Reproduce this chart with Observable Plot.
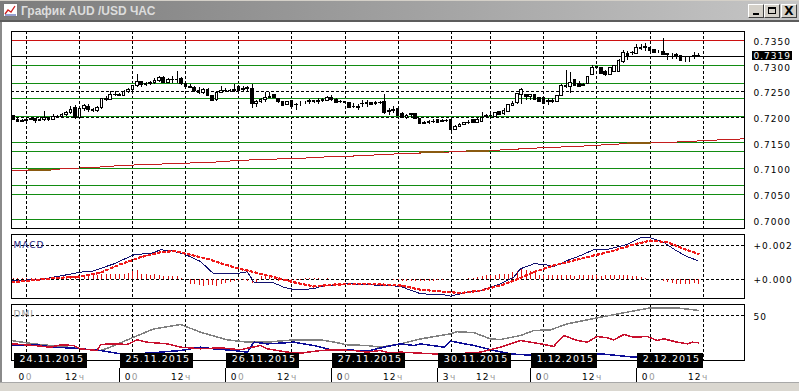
<!DOCTYPE html>
<html><head><meta charset="utf-8">
<script src="https://cdn.jsdelivr.net/npm/d3@7"></script>
<script src="https://cdn.jsdelivr.net/npm/@observablehq/plot@0.6"></script>
<style>
html,body{margin:0;padding:0;background:#fff;overflow:hidden}
#win{position:relative;width:799px;height:391px;overflow:hidden;background:#fff}
#titlebar{position:absolute;left:0;top:0;width:799px;height:21px;background:linear-gradient(to right,#7c7c7c 0%,#a4a4a4 55%,#c6c6c6 100%);border-top:1px solid #d4d0c8;box-sizing:border-box}
#titletext{position:absolute;left:21px;top:3px;font:bold 12px "Liberation Sans",Arial,sans-serif;color:#dcdcdc;white-space:nowrap}
#titleline{position:absolute;left:0;top:20px;width:799px;height:2px;background:#5c5c5c}
.btn{position:absolute;top:3px;width:16px;height:14px;background:#d4d0c8;border:1px solid;border-color:#fff #404040 #404040 #fff;box-sizing:border-box}
#leftborder{position:absolute;left:0;top:22px;width:2px;height:361px;background:#8a8a8a}
#bottom{position:absolute;left:0;top:382px;width:799px;height:9px;background:#dad7d0;border-top:1px solid #a8a8a8;box-sizing:border-box}
.panel{position:absolute;left:0}
.panel svg{overflow:visible;shape-rendering:crispEdges}
.panel svg text{letter-spacing:1px}
</style></head>
<body>
<div id="win">
  <div id="titlebar">
    <svg style="position:absolute;left:3px;top:2px" width="15" height="14"><rect x="0.5" y="0.5" width="14" height="13" fill="#fff" stroke="#7a7a7a"/><polyline points="2,11 5,7 8,9 12,3" fill="none" stroke="#d02020" stroke-width="1.3"/><polyline points="2,12 13,12" stroke="#3040a0"/></svg>
    <div id="titletext">График AUD /USD ЧАС</div>
    <div class="btn" style="left:748px"><div style="position:absolute;left:4px;top:8px;width:6px;height:2px;background:#000"></div></div>
    <div class="btn" style="left:764px"><div style="position:absolute;left:3px;top:2px;width:8px;height:7px;border:1px solid #000;border-top-width:2px;box-sizing:border-box"></div></div>
    <div class="btn" style="left:781px"><div style="position:absolute;left:0;top:-1px;width:14px;text-align:center;font:bold 12px 'DejaVu Sans',sans-serif;color:#000">X</div></div>
  </div>
  <div id="titleline"></div>
  <div id="leftborder"></div>
  <div class="panel" id="mainPanel" style="top:22px"></div>
  <div class="panel" id="macdPanel" style="top:230px"></div>
  <div class="panel" id="dmiPanel" style="top:300px"></div>
  <div id="bottom"></div>
</div>
<script>
// ---------- DATA ----------
const firstBar = -3; // bar index of first candle (index 0 = 24.11 00:00)
const barOpen = [
.7202,.7195,.7191,.7193,.7195,.7197,.7192,.7195,.7198,.7194,
.7200,.7201,.7204,.7209,.7217,.7198,.7215,.7220,.7214,.7212,
.7217,.7235,.7233,.7243,.7244,.7242,.7249,.7252,.7260,.7268,
.7262,.7264,.7266,.7270,.7276,.7267,.7273,.7272,.7275,.7264,
.7258,.7257,.7250,.7247,.7253,.7241,.7233,.7248,.7250,.7251,
.7250,.7258,.7253,.7255,.7255,.7226,.7230,.7234,.7238,.7243,
.7236,.7229,.7224,.7231,.7224,.7225,.7228,.7231,.7231,.7230,
.7231,.7232,.7237,.7234,.7229,.7229,.7227,.7220,.7220,.7226,
.7227,.7227,.7225,.7227,.7230,.7210,.7212,.7216,.7206,.7198,
.7204,.7206,.7197,.7187,.7188,.7190,.7194,.7191,.7192,.7194,
.7176,.7181,.7185,.7188,.7194,.7189,.7191,.7200,.7202,.7201,
.7211,.7206,.7211,.7222,.7227,.7243,.7243,.7239,.7243,.7238,
.7238,.7230,.7232,.7230,.7241,.7260,.7258,.7272,.7265,.7262,
.7265,.7283,.7295,.7295,.7288,.7283,.7288,.7288,.7307,.7322,
.7324,.7323,.7333,.7336,.7335,.7330,.7326,.7327,.7322,.7321,
.7321,.7319,.7315,.7314,.7317,.7320];
const barClose = [
.7195,.7191,.7193,.7195,.7197,.7192,.7195,.7198,.7194,.7200,
.7201,.7204,.7209,.7214,.7198,.7215,.7222,.7214,.7212,.7217,
.7235,.7233,.7243,.7244,.7242,.7249,.7252,.7260,.7268,.7262,
.7264,.7266,.7270,.7276,.7267,.7273,.7272,.7273,.7264,.7258,
.7257,.7250,.7247,.7253,.7241,.7232,.7248,.7250,.7251,.7250,
.7252,.7250,.7255,.7256,.7226,.7230,.7233,.7238,.7240,.7238,
.7229,.7222,.7229,.7220,.7223,.7225,.7228,.7230,.7229,.7231,
.7233,.7237,.7233,.7228,.7230,.7228,.7218,.7219,.7217,.7225,
.7226,.7223,.7227,.7228,.7208,.7212,.7214,.7203,.7199,.7202,
.7206,.7197,.7187,.7188,.7190,.7191,.7189,.7192,.7193,.7176,
.7180,.7185,.7188,.7189,.7189,.7194,.7199,.7202,.7203,.7208,
.7205,.7213,.7223,.7225,.7245,.7253,.7239,.7243,.7233,.7230,
.7225,.7232,.7230,.7241,.7261,.7258,.7266,.7261,.7259,.7261,
.7279,.7295,.7297,.7285,.7282,.7295,.7299,.7310,.7325,.7320,
.7325,.7335,.7335,.7334,.7328,.7325,.7326,.7321,.7321,.7321,
.7320,.7310,.7315,.7314,.7319,.7319];
const barHigh = [
.7204,.7197,.7195,.7198,.7200,.7198,.7199,.7212,.7200,.7205,
.7204,.7207,.7211,.7220,.7223,.7220,.7225,.7224,.7216,.7220,
.7237,.7240,.7250,.7250,.7247,.7252,.7255,.7262,.7283,.7270,
.7268,.7270,.7275,.7280,.7280,.7276,.7280,.7288,.7278,.7266,
.7263,.7260,.7258,.7256,.7255,.7243,.7250,.7260,.7255,.7254,
.7263,.7262,.7260,.7260,.7264,.7233,.7236,.7249,.7249,.7245,
.7237,.7230,.7231,.7233,.7227,.7230,.7231,.7234,.7232,.7236,
.7236,.7240,.7242,.7236,.7233,.7231,.7228,.7227,.7225,.7232,
.7232,.7229,.7230,.7230,.7245,.7216,.7220,.7218,.7209,.7205,
.7208,.7208,.7198,.7191,.7194,.7196,.7196,.7196,.7195,.7195,
.7184,.7188,.7190,.7193,.7196,.7197,.7210,.7205,.7206,.7210,
.7212,.7217,.7225,.7230,.7246,.7255,.7245,.7245,.7244,.7239,
.7238,.7237,.7237,.7243,.7263,.7290,.7287,.7273,.7270,.7265,
.7280,.7301,.7299,.7297,.7290,.7297,.7301,.7312,.7330,.7327,
.7327,.7341,.7341,.7343,.7336,.7332,.7330,.7353,.7323,.7323,
.7323,.7320,.7317,.7317,.7325,.7323];
const barLow = [
.7193,.7189,.7190,.7192,.7193,.7188,.7191,.7191,.7192,.7193,
.7197,.7199,.7202,.7206,.7196,.7196,.7212,.7210,.7210,.7210,
.7215,.7230,.7232,.7240,.7240,.7240,.7247,.7250,.7258,.7258,
.7260,.7262,.7264,.7268,.7265,.7266,.7266,.7265,.7262,.7256,
.7255,.7248,.7245,.7245,.7240,.7230,.7230,.7247,.7248,.7248,
.7248,.7248,.7250,.7250,.7216,.7219,.7226,.7229,.7236,.7236,
.7226,.7220,.7222,.7218,.7213,.7220,.7224,.7224,.7227,.7224,
.7229,.7230,.7231,.7226,.7226,.7225,.7217,.7216,.7213,.7219,
.7219,.7222,.7223,.7225,.7206,.7203,.7208,.7202,.7198,.7196,
.7199,.7195,.7186,.7185,.7186,.7187,.7188,.7190,.7190,.7171,
.7174,.7182,.7184,.7186,.7187,.7187,.7190,.7197,.7200,.7199,
.7204,.7203,.7210,.7220,.7225,.7225,.7233,.7233,.7232,.7228,
.7224,.7223,.7227,.7230,.7240,.7255,.7247,.7259,.7257,.7259,
.7263,.7282,.7293,.7283,.7280,.7281,.7286,.7286,.7305,.7310,
.7320,.7322,.7330,.7328,.7327,.7323,.7323,.7320,.7310,.7313,
.7312,.7310,.7307,.7307,.7313,.7319];

const currentPrice = 0.7319;
const priceTicks = [0.7350,0.7300,0.7250,0.7200,0.7150,0.7100,0.7050,0.7000];
const greenLevels = [0.7300,0.7265,0.7236,0.7201,0.7150,0.7133,0.7100,0.7068,0.7049,0.7000];
const redLevels = [0.7350];

// long moving average [bar index, price]
const maLine = [[-3.46,0.70963],[5.4,0.70982],[11,0.71008],[16,0.71027],[21.2,0.7106],[31.8,0.71093],[42.2,0.71125],[47.7,0.71158],[52.9,0.71177],[62.6,0.71203],[68,0.71229],[73.2,0.71242],[83.9,0.71287],[94.3,0.71319],[104.9,0.71352],[116.2,0.71404],[125.3,0.71436],[135.9,0.71488],[146.3,0.71514],[157,0.7156],[162.38,0.71579]];
// brownish overlay segments [segment, bar index, price]
const brownSegments = [[1,0.5,0.7098],[1,5.4,0.7098],[2,89,0.7132],[2,94.3,0.7132],[3,99.6,0.7134],[3,104.5,0.7135],[4,135.8,0.7149],[4,141.1,0.7149]];

// MACD panel
const macdTicks = [0.002, 0.000];
const macdLine = [[-3.3,-0.00006],[3.1,0.0],[9.1,0.00028],[12.1,0.00043],[15,0.0005],[19.7,0.00092],[24.2,0.00145],[28.7,0.00157],[30.2,0.00175],[32.5,0.0017],[35.5,0.00151],[39.3,0.00106],[42.3,0.00033],[46.8,0.00033],[49.9,0.00045],[51.4,-0.00016],[55.9,-0.0002],[58.1,-0.00045],[60.4,-0.00059],[64.9,-0.00055],[66.4,-0.0004],[72.5,-0.00025],[80.8,-0.00035],[84.5,-0.0004],[86,-0.00055],[89.1,-0.00084],[94.4,-0.0009],[95.9,-0.00098],[98.1,-0.00084],[102.6,-0.00065],[107.2,-0.00025],[110.2,0.00014],[111.7,0.00063],[114.7,0.00092],[117,0.0009],[119.2,0.00076],[122.3,0.00112],[125.3,0.00141],[128.3,0.00176],[131.3,0.00176],[135.8,0.00206],[138.8,0.00245],[141.1,0.00245],[144.1,0.00219],[147.1,0.00167],[149.4,0.00135],[151.7,0.00112]];
const signalLine = [[-3.3,-0.00016],[5.4,0.00006],[12.1,0.00018],[16.7,0.0004],[21.2,0.0009],[25.7,0.00131],[30.2,0.0016],[33.3,0.00167],[36.3,0.0015],[40.8,0.00122],[46.8,0.00072],[51.4,0.00043],[55.9,0.00014],[60.4,-0.00016],[64.9,-0.00041],[69.5,-0.0003],[77,-0.00025],[84.5,-0.00035],[89.1,-0.0006],[95.9,-0.00075],[98.1,-0.0008],[102.6,-0.00065],[107.2,-0.00035],[110.2,-0.00006],[114.7,0.00043],[119.2,0.00082],[123.8,0.00112],[128.3,0.00141],[132.8,0.0017],[137.3,0.00206],[141.1,0.00229],[144.9,0.00219],[148.6,0.0018],[152,0.00151]];
const macdHist = [
0.00003,0.00003,0.00004,0.00004,0.00005,0.00005,0.00006,0.00006,0.00008,0.00010,
0.00010,0.00012,0.00014,0.00016,0.00018,0.00020,0.00022,0.00022,0.00024,0.00026,
0.00030,0.00030,0.00032,0.00028,0.00030,0.00032,0.00034,0.00048,0.00050,0.00030,
0.00030,0.00026,0.00030,0.00022,0.00020,0.00018,0.00020,0.00016,0.00008,0.00002,
-0.00028,-0.00032,-0.00036,-0.00040,-0.00038,-0.00034,-0.00040,-0.00030,-0.00026,-0.00020,
-0.00010,-0.00008,-0.00006,-0.00012,-0.00024,-0.00026,0.00018,0.00022,0.00020,0.00016,
-0.00010,-0.00014,-0.00012,-0.00010,-0.00008,-0.00006,0.00004,0.00003,0.00004,0.00003,
0.00002,0.00003,0.00002,0.00002,0.00001,0.00002,0.00002,0.00001,0.00002,0.00001,
0.00002,0.00001,0.00002,0.00001,0.00002,0.00001,-0.00004,-0.00008,-0.00010,-0.00012,
-0.00014,-0.00012,-0.00014,-0.00012,-0.00010,-0.00012,-0.00008,-0.00004,-0.00002,0.00001,
0.00001,0.00002,0.00002,0.00004,0.00006,0.00010,0.00020,0.00024,0.00022,0.00026,
0.00028,0.00030,0.00030,0.00040,0.00048,0.00056,0.00052,0.00046,0.00040,0.00024,
0.00024,0.00022,0.00026,0.00024,0.00022,0.00026,0.00024,0.00020,0.00022,0.00024,
0.00022,0.00026,0.00024,0.00020,0.00022,0.00024,0.00022,0.00026,0.00024,0.00022,
0.00020,0.00016,0.00010,0.00004,0.00002,0.00001,-0.00002,-0.00014,-0.00020,-0.00024,
-0.00028,-0.00030,-0.00028,-0.00030,-0.00026,-0.00028];

// DMI panel
const dmiTicks = [50];
const adxLine = [[-3.3,22],[1.6,18.5],[9.1,14.8],[12.1,13],[16.7,11],[18.9,14.8],[24.2,26],[28.7,35],[34.8,40],[39.3,31.5],[45.3,23],[49.9,20.4],[54.4,20.4],[60.4,23],[66.4,23],[69.5,20.4],[72.5,17.4],[77,16.7],[80,14.8],[84.5,18.5],[89.1,24],[95.9,29.6],[97.4,32],[101.1,31],[104.9,24],[107.2,23.3],[111.7,27.8],[114.7,33.3],[118.5,34.1],[122.3,40.7],[126.8,45.2],[129.8,48.1],[135.8,53.7],[141.1,58.5],[147.1,58.5],[152,55.6]];
const plusDiLine = [[-3.3,18.5],[1.6,16.7],[5.4,14.8],[7.6,17.4],[10.6,16.7],[12.1,13],[15.9,11.1],[16.7,17.8],[19.7,18.5],[22.7,17.8],[25,23],[27.2,20.4],[31.8,18.5],[34.8,14.8],[39.3,13],[43.8,14.1],[48.3,11.9],[52.9,16.7],[54.4,13],[58.9,9.3],[61.9,8.1],[66.4,11.1],[69.5,11.9],[74,11.1],[77,9.3],[80,11.1],[82.3,8.1],[84.5,9.3],[92.1,7.4],[99.6,8.1],[102.6,9.3],[104.2,11.1],[107.2,14.8],[111.7,22.2],[116.2,18.5],[119.2,15.6],[121.5,27.8],[124.5,22.2],[126.8,20.4],[129,26.7],[131.3,25.2],[132.8,23],[135.1,28.9],[137.3,25.9],[140.4,26.7],[142.6,22.2],[144.1,24.1],[147.1,20.4],[149.4,18.5],[150.6,20.4],[152,19.6]];
const minusDiLine = [[-3.3,16.7],[1.6,17.8],[6.1,14.8],[10.6,13.7],[16.7,11.1],[21.2,7.4],[27.2,8.1],[34.8,11.1],[39.3,14.8],[42.3,13],[46.8,11.1],[49.9,9.3],[51.4,20.4],[54.4,18.5],[57.4,19.3],[60.4,20.4],[64.9,16.7],[69.5,11.1],[72.5,11.9],[77,10.4],[80.8,14.8],[84.5,18.5],[87.6,16.7],[89.1,18.5],[94.4,14.8],[95.9,21.5],[101.1,16.7],[105.7,11.1],[109.4,7.4],[114.7,5.6],[122.3,5.6],[129.8,7.4],[137.3,3.7],[144.9,3.7],[151.7,5.6]];

// time axis
const gridBars = [0,12,24,36,48,60,72,84,96,105,117,129,141,153];
const hourMain = ["0","12","0","12","0","12","0","12","3","12","0","12","0","12"];
const hourSuffix = ["0","ч","0","ч","0","ч","0","ч","ч","ч","0","ч","0","ч"];
const dateStartBars = [-3,21,45,69,93,114,138];
const dateLabels = ["24.11.2015","25.11.2015","26.11.2015","27.11.2015","30.11.2015","1.12.2015","2.12.2015"];

// ---------- CHART ----------
const xDomain = [-3.46, 162.38];
const bars = barOpen.map((o,k)=>({i:firstBar+k, open:o, close:barClose[k], high:barHigh[k], low:barLow[k]}));
const hist = macdHist.map((v,k)=>({i:firstBar+k, v}));
const pts = arr => arr.map(([i,v])=>({i,v}));
const dates = dateStartBars.map((i,k)=>({i, label:dateLabels[k]}));
const brown = brownSegments.map(([s,i,v])=>({s,i,v}));

const base = {
  width: 799, marginLeft: 11, marginRight: 55,
  x: {domain: xDomain, axis: null},
  style: {background: "none", fontFamily: "'DejaVu Sans', Verdana, sans-serif", fontSize: "9px", color: "#000"}
};
const dash = {stroke: "#000", strokeDasharray: "3,2", strokeWidth: 1};
const LABEL_FILL = "#fefefe"; // marker colour of text that gets a black plate

const mainPlot = Plot.plot({
  ...base, height: 210, marginTop: 9, marginBottom: 4,
  y: {domain: [0.698346, 0.736673], axis: null},
  marks: [
    Plot.ruleX(gridBars, dash),
    Plot.ruleY(priceTicks, dash),
    Plot.ruleY(greenLevels, {stroke: "#128c12"}),
    Plot.ruleY(redLevels, {stroke: "#cc1010"}),
    Plot.ruleY([currentPrice], {stroke: "#000"}),
    Plot.line(pts(maLine), {x: "i", y: "v", stroke: "#c41e1e", strokeWidth: 1}),
    Plot.line(brown, {x: "i", y: "v", z: "s", stroke: "#8a5a10", strokeWidth: 2}),
    Plot.ruleX(bars, {x: "i", y1: "low", y2: "high", stroke: "#000"}),
    Plot.rect(bars, {x1: d => d.i - 0.3, x2: d => d.i + 0.3, y1: "open", y2: "close",
      fill: d => d.close >= d.open ? "#fff" : "#000", stroke: "#000"}),
    Plot.frame({stroke: "#000"}),
    Plot.text(priceTicks, {y: d => d, text: d => d.toFixed(4), frameAnchor: "right", textAnchor: "start", dx: 9, dy: 2, fill: "#000"}),
    Plot.text([currentPrice], {y: d => d, text: d => d.toFixed(4), frameAnchor: "right", textAnchor: "start", dx: 9, fill: LABEL_FILL})
  ]
});
document.getElementById("mainPanel").append(mainPlot);

const macdPlot = Plot.plot({
  ...base, height: 72, marginTop: 4.3, marginBottom: 3.7,
  y: {domain: [-0.001135, 0.002629], axis: null},
  marks: [
    Plot.ruleX(gridBars, dash),
    Plot.ruleY(macdTicks, dash),
    Plot.ruleX(hist, {x: "i", y1: 0, y2: "v", stroke: "#e01010"}),
    Plot.line(pts(macdLine), {x: "i", y: "v", stroke: "#10106e", strokeWidth: 1}),
    Plot.line(pts(signalLine), {x: "i", y: "v", stroke: "#f01818", strokeWidth: 2.2, strokeDasharray: "2,3"}),
    Plot.frame({stroke: "#000"}),
    Plot.text(["MACD"], {text: d => d, frameAnchor: "top-left", textAnchor: "start", dx: 2, dy: 7, fill: "#23237e"}),
    Plot.text(macdTicks, {y: d => d, text: d => "+" + d.toFixed(3), frameAnchor: "right", textAnchor: "start", dx: 9, dy: 1, fill: "#000"})
  ]
});
document.getElementById("macdPanel").append(macdPlot);

const dmiPlot = Plot.plot({
  ...base, height: 91, marginTop: 4.3, marginBottom: 31,
  y: {domain: [0, 61.9], axis: null},
  marks: [
    Plot.ruleX(gridBars, dash),
    Plot.ruleY(dmiTicks, dash),
    Plot.line(pts(adxLine), {x: "i", y: "v", stroke: "#808080"}),
    Plot.line(pts(minusDiLine), {x: "i", y: "v", stroke: "#0c0c96"}),
    Plot.line(pts(plusDiLine), {x: "i", y: "v", stroke: "#c8102e"}),
    Plot.frame({stroke: "#000"}),
    Plot.text(["DMI"], {text: d => d, frameAnchor: "top-left", textAnchor: "start", dx: 2, dy: 6, fill: "#9a9a9a"}),
    Plot.text(dmiTicks, {y: d => d, text: d => String(d), frameAnchor: "right", textAnchor: "start", dx: 9, dy: 2, fill: "#000"}),
    Plot.ruleX(dateStartBars.slice(1), {stroke: "#000", insetTop: 63.7, insetBottom: -22}),
    Plot.text(dates, {x: "i", text: "label", frameAnchor: "bottom", textAnchor: "start", dx: 6, dy: 1, fill: LABEL_FILL, fontSize: 9.5}),
    Plot.text(gridBars, {x: d => d, text: (d, k) => hourMain[k], frameAnchor: "bottom", textAnchor: "end", dx: -1.5, dy: 19, fill: "#000"}),
    Plot.text(gridBars, {x: d => d, text: (d, k) => hourSuffix[k], frameAnchor: "bottom", textAnchor: "start", dx: -1, dy: 19, fill: "#9a9a9a"})
  ]
});
document.getElementById("dmiPanel").append(dmiPlot);

// black plates behind the white label texts
function plates(svg, padL, padR, cy, h) {
  const sb = svg.getBoundingClientRect();
  const texts = Array.from(svg.querySelectorAll("text")).filter(t => {
    const f = (t.getAttribute("fill") || (t.closest("g") && t.closest("g").getAttribute("fill")) || "").toLowerCase();
    return f === LABEL_FILL;
  });
  texts.forEach(t => {
    const tb = t.getBoundingClientRect();
    const r = document.createElementNS("http://www.w3.org/2000/svg", "rect");
    r.setAttribute("x", tb.left - sb.left - padL);
    r.setAttribute("width", tb.width + padL + padR);
    r.setAttribute("y", cy - h / 2);
    r.setAttribute("height", h);
    r.setAttribute("fill", "#000");
    let g = t.parentNode; while (g.parentNode !== svg) g = g.parentNode;
    svg.insertBefore(r, g);
  });
}
plates(mainPlot, 1.5, 0.5, mainPlot.scale("y").apply(currentPrice), 9.6);
plates(dmiPlot, 6, 3, 60.8, 15);
</script>
</body></html>
